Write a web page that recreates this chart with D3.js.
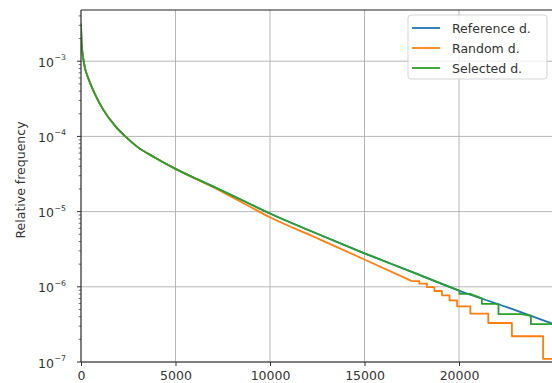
<!DOCTYPE html>
<html>
<head>
<meta charset="utf-8">
<script src="https://cdn.jsdelivr.net/npm/d3@7"></script>
<style>
  body { margin: 0; background: #fff; }
  svg { display: block; font-family: "DejaVu Sans", sans-serif; }
</style>
</head>
<body>
<div id="chart"></div>
<script>
// values: [position, relative frequency]
const refData = [
  [0, 3.16e-3], [30, 1.78e-3], [140, 1.0e-3], [400, 5.8e-4], [725, 3.72e-4],
  [1200, 2.22e-4], [1815, 1.37e-4], [2345, 1.0e-4], [3000, 7.2e-5], [3900, 5.25e-5],
  [5000, 3.7e-5], [6200, 2.66e-5], [7400, 1.93e-5], [8700, 1.35e-5], [10000, 9.44e-6],
  [12500, 5.07e-6], [15000, 2.79e-6], [17500, 1.58e-6], [20000, 8.9e-7],
  [22500, 5.4e-7], [25000, 3.2e-7]
];
const randomData = [
  [0, 3.16e-3], [30, 1.78e-3], [140, 1.0e-3], [400, 5.8e-4], [725, 3.72e-4],
  [1200, 2.22e-4], [1815, 1.37e-4], [2345, 1.0e-4], [3000, 7.2e-5], [3900, 5.25e-5],
  [5000, 3.7e-5], [6200, 2.63e-5], [7400, 1.875e-5], [8700, 1.253e-5], [10000, 8.4e-6],
  [12500, 4.42e-6], [15000, 2.31e-6], [17500, 1.19e-6],
  [17900, 1.19e-6], [17900, 1.1e-6], [18300, 1.1e-6], [18300, 9.9e-7],
  [18700, 9.9e-7], [18700, 8.8e-7], [19100, 8.8e-7], [19100, 7.7e-7],
  [19500, 7.7e-7], [19500, 6.6e-7], [19900, 6.6e-7], [19900, 5.5e-7],
  [20600, 5.5e-7], [20600, 4.4e-7], [21550, 4.4e-7], [21550, 3.3e-7],
  [22800, 3.3e-7], [22800, 2.2e-7], [24450, 2.2e-7], [24450, 1.1e-7],
  [25000, 1.1e-7]
];
const selectedData = [
  [0, 3.16e-3], [30, 1.78e-3], [140, 1.0e-3], [400, 5.8e-4], [725, 3.72e-4],
  [1200, 2.22e-4], [1815, 1.37e-4], [2345, 1.0e-4], [3000, 7.2e-5], [3900, 5.25e-5],
  [5000, 3.7e-5], [6200, 2.66e-5], [7400, 1.93e-5], [8700, 1.35e-5], [10000, 9.44e-6],
  [12500, 5.07e-6], [15000, 2.79e-6], [17500, 1.58e-6], [20000, 8.9e-7],
  [20025, 8.9e-7], [20025, 8.07e-7], [20590, 8.07e-7],
  [21210, 7.0e-7], [21210, 5.93e-7], [21915, 5.93e-7],
  [22090, 5.85e-7], [22090, 4.33e-7], [23300, 4.33e-7],
  [23805, 4.12e-7], [23805, 3.18e-7], [24920, 3.18e-7], [25000, 3.15e-7]
];

const seriesNames = ["Reference d.", "Random d.", "Selected d."];
const xTicks = [0, 5000, 10000, 15000, 20000];
const yTickExps = [-7, -6, -5, -4, -3];
const yLabel = "Relative frequency";

const colors = ["#1f77b4", "#ff7f0e", "#2ca02c"];
const fs = 12.5;

const W = 552, H = 383;
const pLeft = 81, pRight = 553.5, pTop = 10, pBottom = 362;

const svg = d3.select("#chart").append("svg")
  .attr("width", W).attr("height", H);

const x = d3.scaleLinear().domain([0, 25000]).range([pLeft, pRight]);
const y = d3.scaleLog().domain([1e-7, Math.pow(10, -2.319)]).range([pBottom, pTop]);

// grid
const grid = svg.append("g").attr("stroke", "#b0b0b0").attr("stroke-width", 0.9);
grid.selectAll("line.gx").data(xTicks).enter().append("line")
  .attr("x1", d => x(d)).attr("x2", d => x(d))
  .attr("y1", pTop).attr("y2", pBottom);
grid.selectAll("line.gy").data(yTickExps).enter().append("line")
  .attr("x1", pLeft).attr("x2", pRight)
  .attr("y1", d => y(Math.pow(10, d))).attr("y2", d => y(Math.pow(10, d)));

// lines
svg.append("clipPath").attr("id", "clip").append("rect")
  .attr("x", pLeft).attr("y", pTop).attr("width", pRight - pLeft).attr("height", pBottom - pTop);

const smooth = d3.line().x(d => x(d[0])).y(d => y(d[1])).curve(d3.curveMonotoneX);
const straight = d3.line().x(d => x(d[0])).y(d => y(d[1]));
const lines = svg.append("g").attr("clip-path", "url(#clip)");
[refData, randomData, selectedData].forEach((s, i) => {
  // smooth body, then the stepped tail (starts where an x value repeats)
  let cut = s.findIndex((d, j) => j < s.length - 1 && s[j + 1][0] === d[0]);
  if (cut < 0) cut = s.length;
  const parts = [[s.slice(0, cut), smooth], [s.slice(Math.max(cut - 1, 0)), straight]];
  parts.forEach(([pts, gen]) => {
    if (pts.length < 2) return;
    lines.append("path").datum(pts)
      .attr("d", gen)
      .attr("fill", "none")
      .attr("stroke", colors[i])
      .attr("stroke-width", 1.8)
      .attr("stroke-linejoin", "round");
  });
});

// x axis
const xAxis = d3.axisBottom(x).tickValues(xTicks).tickFormat(d3.format("d"))
  .tickSize(4).tickPadding(5);
const gx = svg.append("g").attr("transform", `translate(0,${pBottom})`).call(xAxis);
gx.select(".domain").remove();
gx.selectAll(".tick line").attr("stroke", "#333");
gx.selectAll(".tick text").attr("font-size", fs).attr("font-family", "DejaVu Sans").attr("fill", "#333");

// y axis: major ticks, labels built by hand for superscripts
const gy = svg.append("g");
yTickExps.forEach(e => {
  const yy = y(Math.pow(10, e));
  gy.append("line").attr("x1", pLeft - 4).attr("x2", pLeft).attr("y1", yy).attr("y2", yy)
    .attr("stroke", "#333");
  gy.append("text").attr("x", 54).attr("y", yy + 5.5)
    .attr("text-anchor", "end").attr("font-size", fs).attr("fill", "#333").text("10");
  gy.append("text").attr("x", 54.5).attr("y", yy - 1)
    .attr("font-size", 7.8).attr("fill", "#333").text("\u2212" + (-e));
});
// minor ticks
const minor = [];
for (let e = -7; e <= -3; e++) {
  for (let m = 2; m <= 9; m++) {
    const v = m * Math.pow(10, e);
    if (v < y.domain()[1]) minor.push(v);
  }
}
gy.selectAll("line.minor").data(minor).enter().append("line")
  .attr("x1", pLeft - 2.4).attr("x2", pLeft)
  .attr("y1", d => y(d)).attr("y2", d => y(d))
  .attr("stroke", "#333").attr("stroke-width", 0.7);

// spines
svg.append("line").attr("x1", pLeft).attr("x2", pLeft).attr("y1", pTop).attr("y2", pBottom)
  .attr("stroke", "#222").attr("stroke-width", 1);
svg.append("line").attr("x1", pLeft).attr("x2", pRight).attr("y1", pBottom).attr("y2", pBottom)
  .attr("stroke", "#222").attr("stroke-width", 1);
svg.append("line").attr("x1", pLeft).attr("x2", pRight).attr("y1", pTop).attr("y2", pTop)
  .attr("stroke", "#222").attr("stroke-width", 1);

// y label
svg.append("text")
  .attr("transform", `translate(25,180) rotate(-90)`)
  .attr("text-anchor", "middle")
  .attr("font-size", fs).attr("fill", "#333")
  .text(yLabel);

// legend
const lg = svg.append("g");
lg.append("rect").attr("x", 408).attr("y", 15).attr("width", 139).attr("height", 64)
  .attr("rx", 3).attr("fill", "#fff").attr("fill-opacity", 0.8)
  .attr("stroke", "#d0d0d0").attr("stroke-width", 0.9);
seriesNames.forEach((n, i) => {
  const yy = 28 + i * 20;
  lg.append("line").attr("x1", 412).attr("x2", 440).attr("y1", yy).attr("y2", yy)
    .attr("stroke", colors[i]).attr("stroke-width", 1.8);
  lg.append("text").attr("x", 452).attr("y", yy + 4.5)
    .attr("font-size", fs).attr("fill", "#333").text(n);
});
</script>
</body>
</html>
